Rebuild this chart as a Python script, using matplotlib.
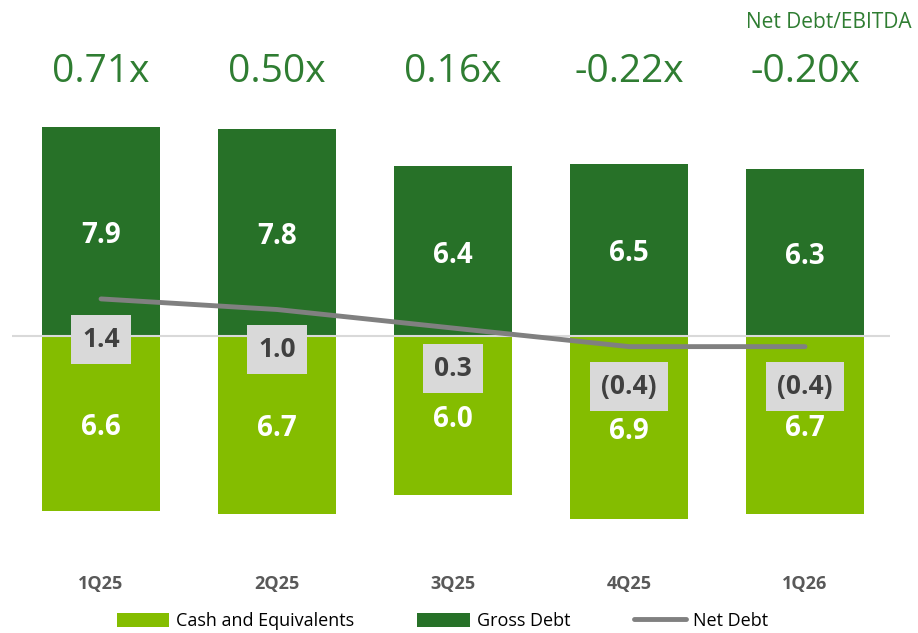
import matplotlib.pyplot as plt
import matplotlib.transforms as mtransforms
import numpy as np

plt.rcParams['font.family'] = ['Open Sans', 'DejaVu Sans']

quarters = ['1Q25', '2Q25', '3Q25', '4Q25', '1Q26']
cash = [6.6, 6.7, 6.0, 6.9, 6.7]
gross_debt = [7.9, 7.8, 6.4, 6.5, 6.3]
net_debt = [1.4, 1.0, 0.3, -0.4, -0.4]
net_debt_labels = ['1.4', '1.0', '0.3', '(0.4)', '(0.4)']
leverage = ['0.71x', '0.50x', '0.16x', '-0.22x', '-0.20x']

light_green = '#84bd00'
dark_green = '#277128'
line_gray = '#808080'
text_green = '#2f7d32'

fig = plt.figure(figsize=(9.18, 6.33), dpi=100)
ax = fig.add_axes([12 / 918, 108 / 633, 878 / 918, 405 / 633])

x = np.arange(len(quarters))
width = 0.67

cash_bars = ax.bar(x, [-c for c in cash], width, color=light_green, zorder=2)
debt_bars = ax.bar(x, gross_debt, width, color=dark_green, zorder=2)
ax.axhline(0, color='#d9d9d9', lw=1.5, zorder=3)
nd_line, = ax.plot(x, net_debt, color=line_gray, lw=3.5, solid_capstyle='round', zorder=4)

for i in range(len(x)):
    ax.text(x[i], gross_debt[i] / 2 - 0.15, f'{gross_debt[i]:.1f}', ha='center', va='center',
            color='white', fontsize=20, fontweight='bold', zorder=5)
    ax.text(x[i], -cash[i] / 2 - 0.15, f'{cash[i]:.1f}', ha='center', va='center',
            color='white', fontsize=20, fontweight='bold', zorder=5)
    ax.annotate(net_debt_labels[i], (x[i], net_debt[i]), xytext=(0, -29), textcoords='offset points',
                ha='center', va='center', color='#404040', fontsize=19, fontweight='bold', zorder=6,
                bbox=dict(boxstyle='square,pad=0.42', fc='#d9d9d9', ec='none'))

trans = mtransforms.blended_transform_factory(ax.transData, fig.transFigure)
for i in range(len(x)):
    ax.text(x[i], 1 - 72 / 633, leverage[i], transform=trans, ha='center', va='center',
            color=text_green, fontsize=28)
fig.text(912 / 918, 1 - 23 / 633, 'Net Debt/EBITDA', ha='right', va='center', color=text_green, fontsize=15)

ax.set_xlim(-0.506, 4.483)
ax.set_ylim(-7.13, 8.15)
ax.set_xticks(x)
ax.set_xticklabels(quarters, fontsize=13, fontweight='bold', color='#595959')
ax.tick_params(axis='x', length=0, pad=36)
ax.set_yticks([])
for s in ax.spines.values():
    s.set_visible(False)

fig.legend([cash_bars, debt_bars, nd_line], ['Cash and Equivalents', 'Gross Debt', 'Net Debt'], loc='center',
           bbox_to_anchor=(0.482, 1 - 621 / 633), ncol=3, frameon=False, fontsize=13,
           handlelength=2.9, handleheight=0.8, handletextpad=0.4, columnspacing=3.5)

fig.savefig('out.png', dpi=100)
